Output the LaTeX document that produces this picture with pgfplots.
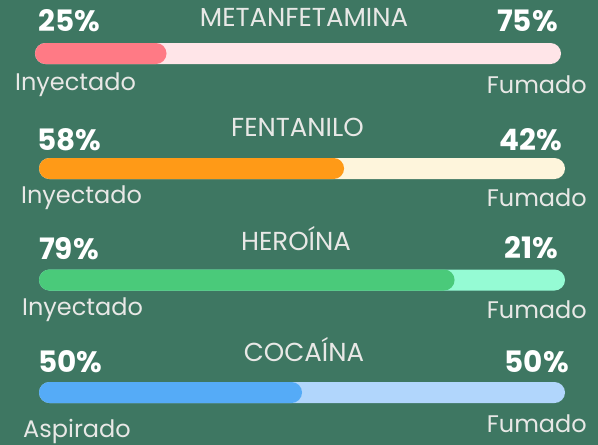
\documentclass[border=0pt]{standalone}
\usepackage{pgfplots}
\pgfplotsset{compat=1.18}
\usepackage{fontspec}
\setmainfont{Poppins}

\definecolor{bg}{HTML}{3E7762}
\definecolor{txt}{HTML}{E8E8E6}
\definecolor{pinkF}{HTML}{FF7A85}
\definecolor{pinkT}{HTML}{FFE5E8}
\definecolor{orangeF}{HTML}{FF9A17}
\definecolor{orangeT}{HTML}{FEF5DC}
\definecolor{greenF}{HTML}{4ACA7A}
\definecolor{greenT}{HTML}{95FBD4}
\definecolor{blueF}{HTML}{55ABF7}
\definecolor{blueT}{HTML}{B1D6FC}

\newcommand{\pct}[1]{\fontsize{29.5}{29.5}\selectfont\bfseries #1}
\newcommand{\lab}[1]{\fontsize{24}{24}\selectfont #1}
\newcommand{\ttl}[1]{\fontsize{26}{26}\selectfont #1}

\begin{document}
\begin{tikzpicture}
\begin{axis}[
    scale only axis,
    width=598pt, height=445pt,
    xmin=-7.414, xmax=106.27,
    ymin=0, ymax=445,
    y dir=reverse,
    axis line style={draw=none},
    ticks=none,
    axis background/.style={fill=bg},
    clip=false,
    xbar, bar width=21pt, bar shift=0pt,
    every axis plot/.append style={draw=none, rounded corners=10.5pt},
]
% metanfetamina (shifted 4px left)
\addplot[fill=pinkT, xshift=-4pt] coordinates {(100,53.5)};
\addplot[fill=pinkF, xshift=-4pt] coordinates {(25,53.5)};
% fentanilo
\addplot[fill=orangeT] coordinates {(100,168.5)};
\addplot[fill=orangeF] coordinates {(58,168.5)};
% heroina
\addplot[fill=greenT] coordinates {(100,280)};
\addplot[fill=greenF] coordinates {(79,280)};
% cocaina
\addplot[fill=blueT] coordinates {(100,392.5)};
\addplot[fill=blueF] coordinates {(50,392.5)};

% titles
\node[txt] at (axis cs:50.38,17) {\ttl{METANFETAMINA}};
\node[txt] at (axis cs:49.14,127) {\ttl{FENTANILO}};
\node[txt] at (axis cs:48.86,239) {\ttl{HEROÍNA}};
\node[txt] at (axis cs:50.38,350) {\ttl{COCAÍNA}};

% percentages
\node[white, anchor=west, inner sep=0pt] at (axis cs:-0.19,21) {\pct{25\%}};
\node[white, anchor=east, inner sep=0pt] at (axis cs:98.67,21) {\pct{75\%}};
\node[white, anchor=west, inner sep=0pt] at (axis cs:-0.38,140) {\pct{58\%}};
\node[white, anchor=east, inner sep=0pt] at (axis cs:99.43,140) {\pct{42\%}};
\node[white, anchor=west, inner sep=0pt] at (axis cs:0,249) {\pct{79\%}};
\node[white, anchor=east, inner sep=0pt] at (axis cs:98.67,248) {\pct{21\%}};
\node[white, anchor=west, inner sep=0pt] at (axis cs:-0.19,362) {\pct{50\%}};
\node[white, anchor=east, inner sep=0pt] at (axis cs:100.76,362) {\pct{50\%}};

% method labels
\node[txt, anchor=west, inner sep=0pt] at (axis cs:-4.56,85) {\lab{Inyectado}};
\node[txt, anchor=east, inner sep=0pt] at (axis cs:104.18,85) {\lab{Fumado}};
\node[txt, anchor=west, inner sep=0pt] at (axis cs:-3.42,198) {\lab{Inyectado}};
\node[txt, anchor=east, inner sep=0pt] at (axis cs:104.18,198) {\lab{Fumado}};
\node[txt, anchor=west, inner sep=0pt] at (axis cs:-3.23,310) {\lab{Inyectado}};
\node[txt, anchor=east, inner sep=0pt] at (axis cs:104.18,310) {\lab{Fumado}};
\node[txt, anchor=west, inner sep=0pt] at (axis cs:-3.04,431) {\lab{Aspirado}};
\node[txt, anchor=east, inner sep=0pt] at (axis cs:104.18,424) {\lab{Fumado}};
\end{axis}
\end{tikzpicture}
\end{document}
